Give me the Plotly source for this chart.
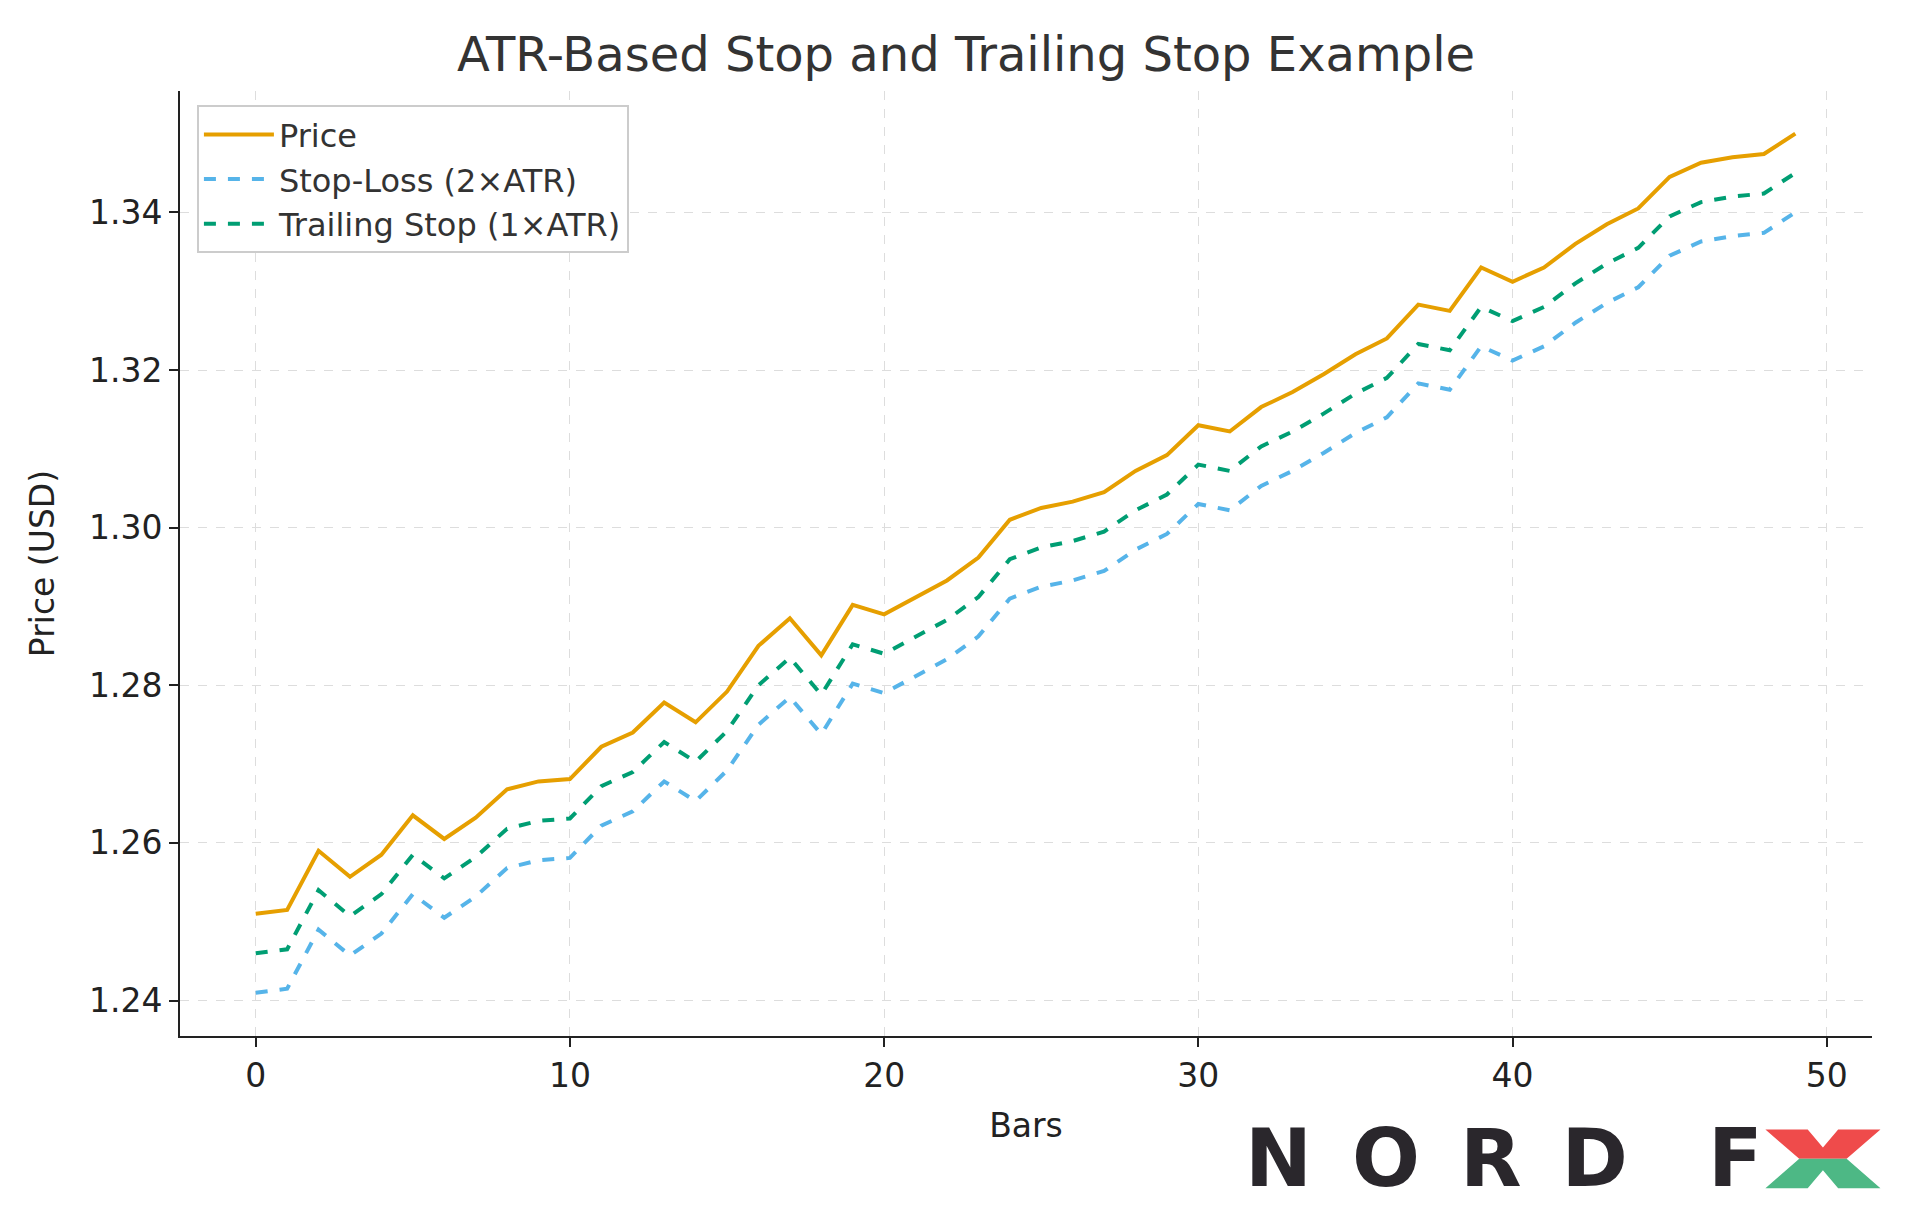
import plotly.graph_objects as go

# // data
bars = list(range(50))
price = [1.2510, 1.2515, 1.2590, 1.2557, 1.2585, 1.2635, 1.2605, 1.2632, 1.2668, 1.2678,
         1.2681, 1.2722, 1.2740, 1.2778, 1.2753, 1.2792, 1.2850, 1.2885, 1.2838, 1.2902,
         1.2890, 1.2912, 1.2933, 1.2962, 1.3010, 1.3025, 1.3033, 1.3045, 1.3072, 1.3092,
         1.3130, 1.3122, 1.3153, 1.3172, 1.3195, 1.3220, 1.3240, 1.3283, 1.3275, 1.3330,
         1.3312, 1.3330, 1.3360, 1.3385, 1.3405, 1.3445, 1.3463, 1.3470, 1.3474, 1.3500]
stop_loss = [1.2410, 1.2415, 1.2490, 1.2457, 1.2485, 1.2535, 1.2505, 1.2532, 1.2568, 1.2578,
             1.2581, 1.2622, 1.2640, 1.2678, 1.2653, 1.2692, 1.2750, 1.2785, 1.2738, 1.2802,
             1.2790, 1.2812, 1.2833, 1.2862, 1.2910, 1.2925, 1.2933, 1.2945, 1.2972, 1.2992,
             1.3030, 1.3022, 1.3053, 1.3072, 1.3095, 1.3120, 1.3140, 1.3183, 1.3175, 1.3230,
             1.3212, 1.3230, 1.3260, 1.3285, 1.3305, 1.3345, 1.3363, 1.3370, 1.3374, 1.3400]
trailing = [1.2460, 1.2465, 1.2540, 1.2507, 1.2535, 1.2585, 1.2555, 1.2582, 1.2618, 1.2628,
            1.2631, 1.2672, 1.2690, 1.2728, 1.2703, 1.2742, 1.2800, 1.2835, 1.2788, 1.2852,
            1.2840, 1.2862, 1.2883, 1.2912, 1.2960, 1.2975, 1.2983, 1.2995, 1.3022, 1.3042,
            1.3080, 1.3072, 1.3103, 1.3122, 1.3145, 1.3170, 1.3190, 1.3233, 1.3225, 1.3280,
            1.3262, 1.3280, 1.3310, 1.3335, 1.3355, 1.3395, 1.3413, 1.3420, 1.3424, 1.3450]

FONT = "DejaVu Sans"
fig = go.Figure()
fig.add_trace(go.Scatter(x=bars, y=price, mode="lines", name="Price",
                         line=dict(color="#E69F00", width=4)))
fig.add_trace(go.Scatter(x=bars, y=stop_loss, mode="lines", name="Stop-Loss (2×ATR)",
                         line=dict(color="#56B4E9", width=4, dash="dash")))
fig.add_trace(go.Scatter(x=bars, y=trailing, mode="lines", name="Trailing Stop (1×ATR)",
                         line=dict(color="#009E73", width=4, dash="dash")))

grid = dict(showgrid=True, gridcolor="#DDDDDD", griddash="dash", gridwidth=1,
            zeroline=False, ticks="outside", ticklen=9, tickwidth=2,
            tickcolor="#222", tickfont=dict(size=33, color="#222"))
fig.update_xaxes(range=[-2.41, 51.44], tickvals=[0, 10, 20, 30, 40, 50],
                 showline=True, linecolor="#222", linewidth=2,
                 title=dict(text="Bars", font=dict(size=33, color="#222"), standoff=20), **grid)
fig.update_yaxes(range=[1.2355, 1.3554], tickvals=[1.24, 1.26, 1.28, 1.30, 1.32, 1.34],
                 tickformat=".2f", showline=True, linecolor="#222", linewidth=2,
                 title=dict(text="Price (USD)", font=dict(size=33, color="#222"), standoff=24), **grid)

# // logo
fig.add_annotation(text="<b>N\u2002O\u2002R\u2002D\u2002\u2002F</b>", xref="paper", yref="paper",
                   x=0.937, y=-0.130, xanchor="right", yanchor="middle", showarrow=False,
                   font=dict(family=FONT, size=80, color="#2A272C"))
fig.add_shape(type="path", xref="paper", yref="paper", fillcolor="#EF4B4B", line_width=0,
              path="M 0.937 -0.099 L 0.962 -0.099 L 0.971 -0.118 L 0.980 -0.099 L 1.005 -0.099 L 0.985 -0.130 L 0.957 -0.130 Z")
fig.add_shape(type="path", xref="paper", yref="paper", fillcolor="#4DB885", line_width=0,
              path="M 0.957 -0.130 L 0.985 -0.130 L 1.005 -0.161 L 0.980 -0.161 L 0.971 -0.142 L 0.962 -0.161 L 0.937 -0.161 Z")

fig.update_layout(
    width=1916, height=1223,
    margin=dict(l=172, r=52, t=83, b=195),
    paper_bgcolor="white", plot_bgcolor="white",
    font=dict(family=FONT, color="#222"),
    title=dict(text="ATR-Based Stop and Trailing Stop Example", x=0.5, xanchor="center",
               y=0.962, yanchor="middle", font=dict(size=48, color="#333")),
    legend=dict(x=0.01, y=0.985, xanchor="left", yanchor="top", bgcolor="white",
                bordercolor="#CCCCCC", borderwidth=2, font=dict(size=32, color="#333"),
                itemwidth=70),
)
fig.write_html("out.html")
